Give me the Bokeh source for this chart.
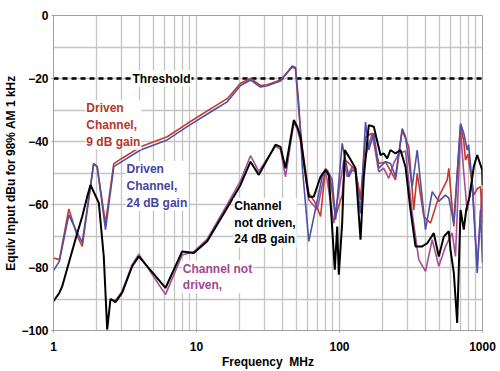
from bokeh.plotting import figure
from bokeh.models import FixedTicker, PrintfTickFormatter, Label, Range1d
from bokeh.embed import file_html
from bokeh.resources import INLINE

# ---- data ----
red_f = [1.0, 1.10, 1.28, 1.465, 1.59, 1.91, 2.02, 2.31, 2.64, 3.02, 4.06, 6.24, 8.61, 13.2, 16.4,
         20.3, 23.9, 28.0, 31.2, 38.7, 46.7, 49.2, 51.9, 54.9, 61.0, 68.0, 73.7, 79.8, 86.5, 93.8,
         104.4, 110.2, 122.7, 129.4, 140.3, 152.0, 169.3, 188.3, 209.8, 246.4, 274.5, 305.2, 330.8,
         349.4, 388.6, 433.0, 494.9, 566.4, 581.3, 630.1, 702.0, 740.0, 760.5, 790.0, 869.4, 918.3,
         968.3, 1000.0]
red_db = [-77, -77.5, -61.4, -70, -73.3, -47, -48, -66, -47, -45.3, -41.7, -38.5, -34.3, -29, -26.4,
          -21.5, -20, -22.2, -22, -20.5, -16.4, -16.8, -30, -42, -56.4, -59.6, -63.8, -48.5, -52.2, -63.8,
          -57, -45.9, -48, -49, -58.5, -38.5, -37.4, -47, -46.5, -52.2, -36.4, -41.7, -61.7,
          -50.1, -63.8, -65.9, -57.5, -52.2, -48.5, -67, -35, -40, -45.9, -44, -57, -55,
          -54.3, -65.9]

blue_f = [1.0, 1.10, 1.28, 1.465, 1.59, 1.91, 2.02, 2.31, 2.64, 3.02, 4.06, 6.24, 8.61, 13.2, 16.4,
          20.3, 23.9, 28.0, 31.2, 38.7, 46.7, 49.2, 51.9, 54.9, 61.0, 75.7, 82.0, 88.9, 93.8, 104.4,
          116.1, 122.7, 129.4, 140.3, 152.0, 160.3, 173.8, 188.3, 209.8, 227.3, 246.4, 274.5, 289.4,
          322.4, 349.4, 399.4, 444.9, 494.9, 551.2, 581.3, 630.1, 702.0, 740.0, 781.6, 800.0, 847.2,
          918.3, 968.3, 1000.0]
blue_db = [-81, -78, -63.3, -69, -72, -47, -48, -68, -48, -46.3, -42.7, -39.5, -35.3, -30, -27.4,
           -22.2, -20.5, -22.7, -22.3, -20.8, -16, -16.5, -28, -48, -71.7, -51.2, -49, -52.2, -64.9, -40.6,
           -51.2, -49, -49.6, -62.8, -33.8, -42.7, -37.4, -48.5, -46.4, -47, -51.2, -35.9, -38.5,
           -54.3, -42.7, -68, -55.9, -59, -57, -58, -66, -34.3, -37.4, -42.7, -41, -53.3,
           -81.7, -61.7, -78.6]

black_f = [1.0, 1.10, 1.15, 1.279, 1.425, 1.588, 1.721, 1.815, 2.074, 2.247, 2.374, 2.503, 2.714,
           3.023, 3.551, 3.95, 6.07, 7.94, 9.574, 11.88, 16.4, 20.31, 23.86, 27.27, 35.68, 38.68,
           41.92, 47.91, 50.61, 53.38, 59.44, 61.0, 66.12, 73.65, 79.82, 84.19, 92.71, 96.37, 98.88,
           104.4, 108.9, 116.1, 129.4, 140.3, 147.9, 160.3, 173.8, 193.5, 204.1, 215.6, 227.3, 246.4,
           267.1, 289.4, 313.7, 340.0, 378.7, 410.5, 456.5, 494.9, 536.3, 581.3, 597.4, 630.1, 665.3,
           702.0, 740.0, 769.1, 811.1, 869.4, 918.3, 995.0, 1000.0]
black_db = [-90.7, -88, -86, -78.6, -71, -63.8, -57.5, -53.8, -59.5, -76.5, -99.7, -90, -91,
            -88, -79.6, -76.5, -86.5, -74.9, -75.4, -71.7, -61, -53.8, -46.4, -50.6, -41, -41.7,
            -48.5, -33.2, -35.3, -38.5, -54.3, -57.5, -57.5, -51.2, -49, -50.6, -80.7, -67, -82.3,
            -65.9, -42.7, -44.8, -48.5, -71.2, -51.2, -34.8, -35.3, -44.3, -43.8, -45.4, -42.7, -43.8,
            -42.7, -48, -61.7, -73.3, -73.3, -72.3, -69.1, -76.5, -70.2, -68.5, -74.4, -81.7, -97.6,
            -61.7, -68, -61.7, -57.5, -48, -44.3, -49, -54]

mag_f = [2.503, 2.714, 3.023, 3.551, 3.95, 6.07, 7.94, 9.574, 11.88, 16.4, 20.31, 23.86, 27.27,
         35.68, 38.68, 41.92, 47.91, 50.61, 53.38, 61.0, 69.86, 79.82, 91.23, 107.2, 113.2, 122.7,
         129.4, 140.3, 152.0, 169.3, 188.3, 204.1, 221.2, 239.7, 259.8, 289.4, 322.4, 358.5, 399.4,
         444.9, 494.9, 551.2, 614.1, 647.5, 702.0, 740.0, 781.6, 847.2, 918.3, 995.0, 1000.0]
mag_db = [-90, -90.5, -87.5, -79, -75.8, -88.6, -76, -75, -71, -60, -52.5, -44.5, -49.5,
          -41.5, -42.5, -51.2, -34, -36, -40, -58.5, -61.7, -49, -65.9, -45.9, -51.2, -48,
          -49.6, -57.9, -44.8, -37.4, -49.6, -48.5, -51.7, -46.9, -43.8, -43, -62.8, -77.5, -81.2,
          -71.2, -79.6, -73.3, -69, -76.5, -36.4, -50, -62, -53, -79.6, -55, -62]

threshold_f = [1, 1000]
threshold_db = [-20, -20]

x_ticks = [1, 10, 100, 1000]
x_minor = [m * d for d in (1, 10, 100) for m in range(2, 10)]
y_ticks = [-100, -80, -60, -40, -20, 0]
y_grid = list(range(-100, 1, 10))

FONT = "Liberation Sans"
RED, BLUE, MAG = "#c8392b", "#4f4fa3", "#a24f96"

p = figure(width=500, height=371, x_axis_type="log", output_backend="svg",
           toolbar_location=None, x_range=Range1d(1, 1000), y_range=Range1d(-100, 0),
           min_border_left=53, min_border_right=18, min_border_top=15, min_border_bottom=40,
           background_fill_color="white", border_fill_color="white")
p.outline_line_color = "#a0a0a0"

p.xaxis.ticker = FixedTicker(ticks=x_ticks, minor_ticks=x_minor)
p.xaxis.formatter = PrintfTickFormatter(format="%d")
p.yaxis.ticker = FixedTicker(ticks=y_ticks)
p.ygrid.ticker = FixedTicker(ticks=y_grid)

for ax in (p.xaxis, p.yaxis):
    ax.axis_line_color = "#a0a0a0"
    ax.major_tick_line_color = "#a0a0a0"
    ax.major_tick_out = 2
    ax.major_tick_in = 0
    ax.minor_tick_line_color = None
    ax.major_label_text_font = FONT
    ax.major_label_text_font_style = "bold"
    ax.major_label_text_font_size = "12px"
    ax.major_label_text_color = "black"
    ax.axis_label_text_font = FONT
    ax.axis_label_text_font_style = "bold"
    ax.axis_label_text_font_size = "12px"
    ax.axis_label_text_color = "black"

p.xaxis.axis_label = "Frequency\u00a0 MHz"
p.yaxis.axis_label = "Equiv Input dBu for 98% AM 1 kHz"
p.xaxis.major_label_standoff = 7
p.xaxis.axis_label_standoff = 1
p.yaxis.major_label_standoff = 3
p.yaxis.axis_label_standoff = 0

p.xgrid.grid_line_color = "#c4c4c4"
p.xgrid.minor_grid_line_color = "#c4c4c4"
p.xgrid.grid_line_width = 1.3
p.xgrid.minor_grid_line_width = 1.3
p.ygrid.grid_line_color = "#c4c4c4"
p.ygrid.grid_line_width = 1.3

p.line(threshold_f, threshold_db, line_color="black", line_width=2.5, line_dash="5 4")

p.line(mag_f, mag_db, line_color=MAG, line_width=1.6)
p.line(red_f, red_db, line_color=RED, line_width=1.6)
p.line(blue_f, blue_db, line_color=BLUE, line_width=1.6)
p.line(black_f, black_db, line_color="black", line_width=2)

def lab(x, y, text, color, align="left", baseline="top"):
    p.add_layout(Label(x=x, y=y, text=text, text_color=color, text_font=FONT,
                       text_font_style="bold", text_font_size="12px", text_align=align,
                       text_baseline=baseline, background_fill_color="white",
                       background_fill_alpha=1.0, padding=1))

lab(5.69, -20, "Threshold", "black", align="center", baseline="middle")
lab(1.67, -26.9, "Driven\nChannel,\n9 dB gain", "#b5362a")
lab(3.19, -46.2, "Driven\nChannel,\n24 dB gain", "#4545a0")
lab(18.1, -57.9, "Channel\nnot driven,\n24 dB gain", "black")
lab(7.9, -77.8, "Channel not\ndriven,", "#a0468f")

open("out.html", "w").write(file_html(p, INLINE))
